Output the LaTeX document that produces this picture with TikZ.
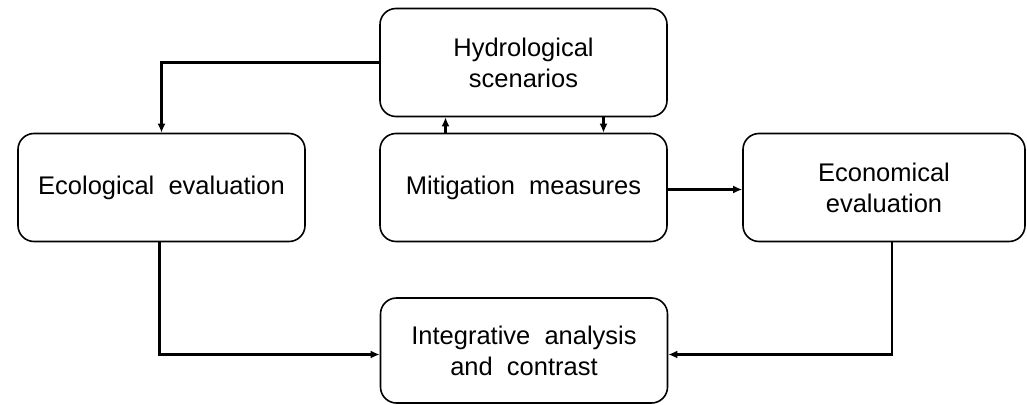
\documentclass[tikz,border=0pt]{standalone}
\usepackage{fontspec}
\setmainfont{Liberation Sans}
\usetikzlibrary{shapes,arrows.meta,positioning,calc}

\begin{document}
\begin{tikzpicture}[x=1pt,y=-1pt,
  box/.style={rectangle, draw, line width=1.6pt, rounded corners=16pt, align=center,
    minimum width=287pt, minimum height=108pt, inner sep=0pt,
    font=\fontsize{25.5}{31}\selectfont},
  link/.style={line width=2.2pt, -{Latex[length=9pt,width=8pt]}}]
\useasboundingbox (0,0) rectangle (1027,404);
\node[box] (hyd) at (523.5,62.5) {Hydrological\\scenarios};
\node[box] (mit) at (523.5,187.5) {Mitigation\ \ measures};
\node[box] (eco) at (161.5,187.5) {Ecological\ \ evaluation};
\node[box, minimum width=282pt] (econ) at (884,187.5) {Economical\\evaluation};
\node[box, minimum height=105pt] (int) at (524,350.5) {Integrative\ \ analysis\\and\ \ contrast};

\draw[link] (hyd.west) -| (eco.north);
\draw[link] ([xshift=-78pt]mit.north) -- ([xshift=-78pt]hyd.south);
\draw[link] ([xshift=80pt]hyd.south) -- ([xshift=80pt]mit.north);
\draw[link] ([yshift=-2pt]mit.east) -- ([yshift=-2pt]econ.west);
\draw[link] ([xshift=-2pt]eco.south) |- ([yshift=-4pt]int.west);
\draw[link] ([xshift=8pt]econ.south) |- ([yshift=-4pt]int.east);
\end{tikzpicture}
\end{document}
